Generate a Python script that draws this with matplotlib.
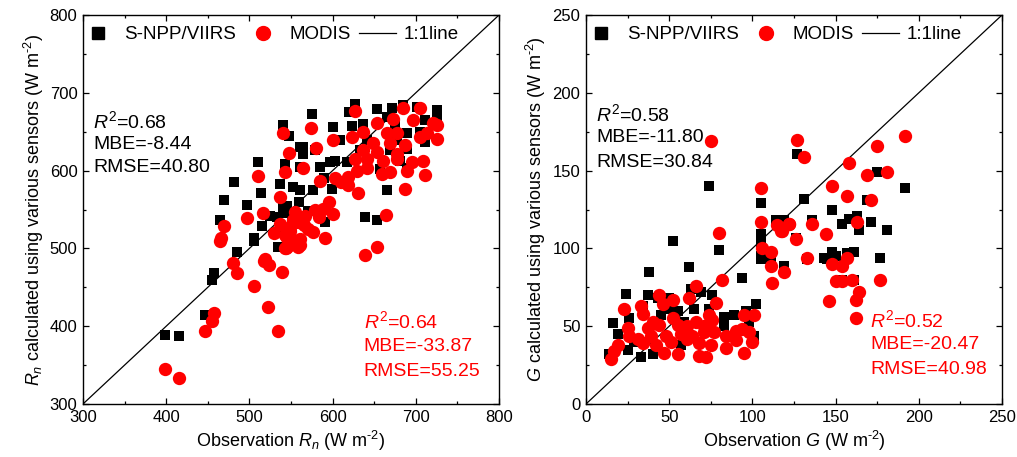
import matplotlib
matplotlib.use("Agg")
import matplotlib.pyplot as plt
from matplotlib.lines import Line2D
from matplotlib.ticker import MultipleLocator

plt.rcParams['font.family'] = ['Liberation Sans', 'DejaVu Sans']
plt.rcParams['mathtext.fontset'] = 'custom'
plt.rcParams['mathtext.rm'] = 'Liberation Sans'
plt.rcParams['mathtext.it'] = 'Liberation Sans:italic'

# ---------------- Data: Rn panel ----------------
rn_viirs_obs = [399, 415, 447, 455, 458, 485, 506, 534, 540, 548, 510, 543, 481, 470, 514, 537,
                497, 465, 506, 485, 533, 561, 561, 525, 543, 551, 515, 627, 653, 671, 685, 701,
                725, 725, 575, 601, 623, 637, 665, 689, 705, 711, 565, 565, 579, 585, 597, 603,
                617, 553, 561, 577, 599, 657, 689, 665, 641, 677, 689, 541, 537, 591, 639, 654,
                681, 609, 633, 669, 620, 675, 711, 590, 560, 545, 570]
rn_viirs_est = [389, 388, 415, 460, 468, 496, 510, 502, 659, 644, 611, 609, 585, 562, 571, 583,
                556, 537, 513, 496, 540, 630, 605, 542, 546, 536, 529, 686, 679, 680, 684, 682,
                678, 667, 673, 656, 658, 660, 669, 648, 650, 637, 630, 622, 626, 605, 611, 613,
                611, 579, 575, 575, 577, 602, 604, 575, 639, 639, 628, 553, 527, 534, 540, 536,
                613, 640, 626, 626, 675, 658, 665, 590, 560, 555, 548]

rn_modis_obs = [399, 415, 447, 455, 458, 480, 485, 465, 506, 518, 524, 522, 535, 539, 544, 558,
                540, 548, 510, 543, 537, 497, 516, 470, 466, 519, 545, 537, 549, 555, 543,
                627, 685, 705, 673, 697, 653, 721, 725, 574, 601, 623, 637, 665, 677, 705, 713,
                725, 649, 669, 687, 580, 637, 653, 677, 627, 641, 661, 677, 695, 709, 565, 585,
                603, 619, 629, 641, 659, 669, 689, 711, 619, 630, 687, 555, 567, 579, 589, 600,
                549, 559, 571, 577, 545, 561, 591, 561, 543, 664, 639, 654,
                530, 552, 566, 584, 596, 610]
rn_modis_est = [345, 334, 394, 407, 417, 481, 469, 510, 452, 484, 479, 425, 394, 470, 501, 502,
                648, 623, 593, 598, 566, 539, 545, 529, 513, 487, 502, 532, 523, 510, 517,
                677, 680, 680, 667, 665, 661, 661, 659, 655, 639, 643, 650, 648, 648, 643, 648,
                641, 635, 635, 633, 629, 626, 624, 622, 615, 615, 613, 615, 611, 612, 603, 587,
                590, 592, 600, 604, 596, 598, 599, 594, 581, 571, 576, 547, 542, 549, 551, 544,
                527, 534, 525, 521, 514, 512, 514, 504, 501, 543, 492, 502,
                520, 537, 530, 540, 560, 585]

# ---------------- Data: G panel ----------------
g_viirs_obs = [74, 52, 80, 105, 105, 114, 120, 105, 111, 127, 175, 192, 131, 148, 169, 119,
               136, 154, 158, 163, 164, 171, 181, 126, 148, 150, 143, 161, 157, 177, 119, 133,
               145, 161, 154, 38, 62, 94, 105, 105, 119, 24, 37, 43, 50, 63, 69, 76, 102, 26,
               16, 19, 34, 45, 55, 65, 74, 83, 89, 96, 98, 14, 25, 33, 40, 57, 83, 101, 29,
               49, 59]
g_viirs_est = [140, 105, 99, 129, 109, 118, 115, 95, 94, 161, 149, 139, 132, 125, 131, 118,
               118, 116, 119, 121, 112, 117, 112, 107, 98, 95, 94, 98, 97, 94, 89, 93, 93, 80,
               80, 85, 88, 81, 104, 93, 89, 71, 70, 68, 68, 74, 72, 70, 64, 55, 52, 45, 63, 57,
               60, 61, 61, 56, 57, 60, 53, 32, 35, 30, 32, 38, 50, 44, 40, 61, 53]

g_modis_obs = [75, 105, 80, 105, 117, 115, 122, 106, 111, 127, 131, 158, 175, 192, 169, 181,
               148, 157, 171, 122, 118, 136, 144, 126, 163, 133, 157, 119, 148, 154, 150, 154,
               160, 164, 162, 146, 162, 177, 111, 112, 82, 66, 44, 52, 62, 78, 33, 46, 23, 34,
               40, 52, 95, 101, 74, 76, 25, 37, 44, 55, 61, 66, 71, 26, 31, 39, 48, 57, 64, 71,
               77, 84, 90, 94, 98, 19, 17, 15, 34, 42, 47, 55, 68, 75, 84, 90, 100, 95, 68, 72,
               51, 61]
g_modis_est = [169, 139, 110, 117, 111, 115, 116, 100, 98, 170, 159, 155, 166, 172, 147, 149,
               140, 134, 131, 116, 111, 116, 109, 106, 117, 94, 94, 85, 90, 89, 79, 79,
               80, 72, 67, 66, 55, 80, 89, 78, 80, 76, 70, 67, 68, 65, 63, 64, 61, 58,
               53, 55, 57, 57, 57, 54, 49, 49, 51, 51, 50, 53, 50, 44, 42, 44, 44, 45, 44, 46,
               46, 44, 47, 48, 46, 38, 34, 29, 39, 38, 33, 32, 39, 38, 36, 41, 40, 33, 31, 30,
               40, 42]

UNIT = r'(W m$^{\text{-2}}$)'

panels = [
    dict(vo=rn_viirs_obs, ve=rn_viirs_est, mo=rn_modis_obs, me=rn_modis_est,
         lim=(300, 800), major=100, minor=50,
         xlabel=r'Observation $R_n$ ' + UNIT,
         ylabel=r'$R_n$ calculated using various sensors ' + UNIT,
         stats_v=[r'$R^2$=0.68', 'MBE=-8.44', 'RMSE=40.80'],
         stats_m=[r'$R^2$=0.64', 'MBE=-33.87', 'RMSE=55.25'],
         pos_v=(0.024, [0.728, 0.668, 0.607]), pos_m=(0.675, [0.212, 0.148, 0.084])),
    dict(vo=g_viirs_obs, ve=g_viirs_est, mo=g_modis_obs, me=g_modis_est,
         lim=(0, 250), major=50, minor=25,
         xlabel=r'Observation $G$ ' + UNIT,
         ylabel=r'$G$ calculated using various sensors ' + UNIT,
         stats_v=[r'$R^2$=0.58', 'MBE=-11.80', 'RMSE=30.84'],
         stats_m=[r'$R^2$=0.52', 'MBE=-20.47', 'RMSE=40.98'],
         pos_v=(0.024, [0.745, 0.684, 0.622]), pos_m=(0.683, [0.216, 0.152, 0.088])),
]

fig = plt.figure(figsize=(10.17, 4.57), dpi=100)
axes_rects = [[0.0816, 0.116, 0.409, 0.851], [0.5762, 0.116, 0.409, 0.851]]

for rect, p in zip(axes_rects, panels):
    ax = fig.add_axes(rect)
    lo, hi = p['lim']
    ax.plot([lo, hi], [lo, hi], color='black', lw=0.9, zorder=1)
    ax.scatter(p['vo'], p['ve'], marker='s', s=62, color='black', linewidths=0, zorder=2)
    ax.scatter(p['mo'], p['me'], marker='o', s=92, color='#ff0000', linewidths=0, zorder=3)
    ax.set_xlim(lo, hi)
    ax.set_ylim(lo, hi)
    ax.xaxis.set_major_locator(MultipleLocator(p['major']))
    ax.yaxis.set_major_locator(MultipleLocator(p['major']))
    ax.xaxis.set_minor_locator(MultipleLocator(p['minor']))
    ax.yaxis.set_minor_locator(MultipleLocator(p['minor']))
    ax.tick_params(which='both', direction='in', top=True, right=True, labelsize=12, width=0.9)
    ax.tick_params(which='major', length=4.5, pad=4)
    ax.tick_params(which='minor', length=2.5)
    for sp in ax.spines.values():
        sp.set_linewidth(1.0)
    ax.set_xlabel(p['xlabel'], fontsize=13, labelpad=3)
    ax.set_ylabel(p['ylabel'], fontsize=13, labelpad=3)

    x, ys = p['pos_v']
    for t, yy in zip(p['stats_v'], ys):
        ax.text(x, yy, t, transform=ax.transAxes, fontsize=14, color='black', va='center', ha='left')
    x, ys = p['pos_m']
    for t, yy in zip(p['stats_m'], ys):
        ax.text(x, yy, t, transform=ax.transAxes, fontsize=14, color='#ff0000', va='center', ha='left')

    handles = [Line2D([], [], marker='s', color='black', linestyle='none', markersize=8),
               Line2D([], [], marker='o', color='#ff0000', linestyle='none', markersize=10),
               Line2D([], [], color='black', lw=0.9)]
    ax.legend(handles, ['S-NPP/VIIRS', 'MODIS', '1:1line'], loc='upper left',
              bbox_to_anchor=(-0.037, 1.0), ncol=3, frameon=False, fontsize=13.5,
              handlelength=2.0, handletextpad=0.4, columnspacing=0.45, borderaxespad=0.2)

fig.savefig('out.png', dpi=100)
